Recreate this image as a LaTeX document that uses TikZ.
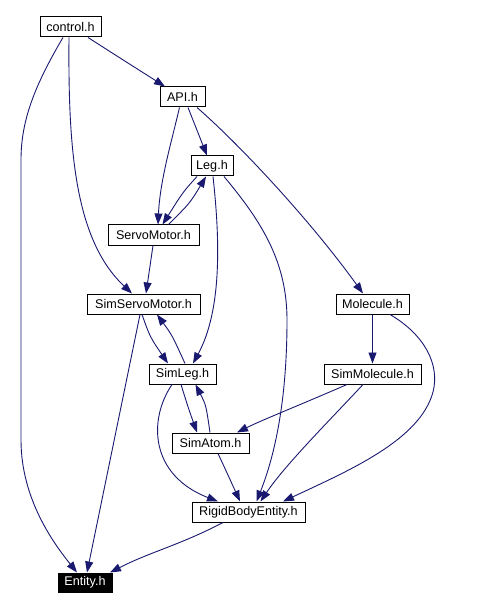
\documentclass[tikz,border=0pt]{standalone}
\usepackage{fontspec}
\setmainfont{Liberation Sans}
\usetikzlibrary{arrows.meta,calc}
\definecolor{edgeblue}{RGB}{25,25,112}
\begin{document}
\begin{tikzpicture}[x=1pt,y=-1pt,
  file/.style={draw=black,line width=1pt,fill=white,minimum height=20pt,inner sep=0pt,font=\fontsize{12.6}{14}\selectfont},
  dep/.style={draw=edgeblue,line width=0.9pt,-{Triangle[length=11pt,width=8pt]}}]
\useasboundingbox (0,0) rectangle (476,609);
\node[file,minimum width=61pt] (control) at (70.5,27) {control.h};
\node[file,minimum width=45pt] (api) at (182.5,97) {API.h};
\node[file,minimum width=42pt] (leg) at (212,166) {Leg.h};
\node[file,minimum width=91pt] (servo) at (153.5,235) {ServoMotor.h};
\node[file,minimum width=113pt] (ssm) at (143.5,304) {SimServoMotor.h};
\node[file,minimum width=73pt] (molecule) at (372.5,304) {Molecule.h};
\node[file,minimum width=67pt] (simleg) at (182.5,374) {SimLeg.h};
\node[file,minimum width=97pt] (simmolecule) at (372.5,374) {SimMolecule.h};
\node[file,minimum width=77pt] (simatom) at (210.5,443) {SimAtom.h};
\node[file,minimum width=113pt] (rbe) at (248.5,512) {RigidBodyEntity.h};
\node[file,fill=black,text=white,minimum width=54pt,minimum height=19pt] (entity) at (85,582.5) {Entity.h};

\draw[dep] ($(control.south)+(17.5,0)$) .. controls (120,58) .. ($(api.north)+(-17.5,0)$);
\draw[dep] ($(control.south)+(-1.5,0)$) .. controls (68,150) and (75,240) .. ($(ssm.north)+(-11.5,0)$);
\draw[dep] ($(control.south)+(-7.5,0)$) .. controls (35,85) and (21,120) .. (21,160) -- (21,440) .. controls (21,500) and (55,545) .. ($(entity.north)+(-8,0)$);
\draw[dep] ($(api.south)+(5.5,0)$) -- ($(leg.north)+(-5,0)$);
\draw[dep] ($(api.south)+(-3,0)$) .. controls (172,140) and (160,180) .. ($(servo.north)+(4.5,0)$);
\draw[dep] ($(api.south)+(14.5,0)$) .. controls (240,145) and (310,220) .. ($(molecule.north)+(-9.5,0)$);
\draw[dep] ($(leg.south)+(-15,0)$) .. controls (183,192) .. ($(servo.north)+(9,0)$);
\draw[dep] ($(servo.north)+(15,0)$) .. controls (190,203) .. ($(leg.south)+(-6,0)$);
\draw[dep] ($(leg.south)+(1,0)$) .. controls (220,240) and (222,310) .. ($(simleg.north)+(10.5,0)$);
\draw[dep] ($(leg.south)+(12,0)$) .. controls (262,222) and (287,262) .. (287,320) .. controls (287,400) and (275,455) .. ($(rbe.north)+(8,0)$);
\draw[dep] ($(servo.south)+(-0.5,0)$) -- ($(ssm.north)+(2.5,0)$);
\draw[dep] ($(ssm.south)+(-1.5,0)$) .. controls (150,337) .. ($(simleg.north)+(-14.5,0)$);
\draw[dep] ($(simleg.north)+(2.5,0)$) .. controls (172,335) .. ($(ssm.south)+(13.5,0)$);
\draw[dep] ($(ssm.south)+(-3.5,0)$) -- ($(entity.north)+(2,0)$);
\draw[dep] ($(simleg.south)+(-1.5,0)$) .. controls (188,407) .. ($(simatom.north)+(-13.5,0)$);
\draw[dep] ($(simatom.north)+(-0.5,0)$) .. controls (206,405) .. ($(simleg.south)+(13,0)$);
\draw[dep] ($(simleg.south)+(-10.5,0)$) .. controls (148,420) and (150,475) .. ($(rbe.north)+(-30.5,0)$);
\draw[dep] ($(simatom.south)+(7.5,0)$) .. controls (228,475) .. ($(rbe.north)+(-8.5,0)$);
\draw[dep] (molecule.south) -- (simmolecule.north);
\draw[dep] ($(molecule.south)+(17.5,0)$) .. controls (425,335) and (440,365) .. (433,392) .. controls (420,440) and (350,470) .. ($(rbe.north)+(34.5,0)$);
\draw[dep] ($(simmolecule.south)+(-25.5,0)$) .. controls (300,405) and (262,420) .. ($(simatom.north)+(26.5,0)$);
\draw[dep] ($(simmolecule.south)+(-9.5,0)$) .. controls (330,420) and (285,465) .. ($(rbe.north)+(12,0)$);
\draw[dep] ($(rbe.south)+(-25.5,0)$) .. controls (180,545) and (150,552) .. ($(entity.north)+(25,0)$);
\end{tikzpicture}
\end{document}
